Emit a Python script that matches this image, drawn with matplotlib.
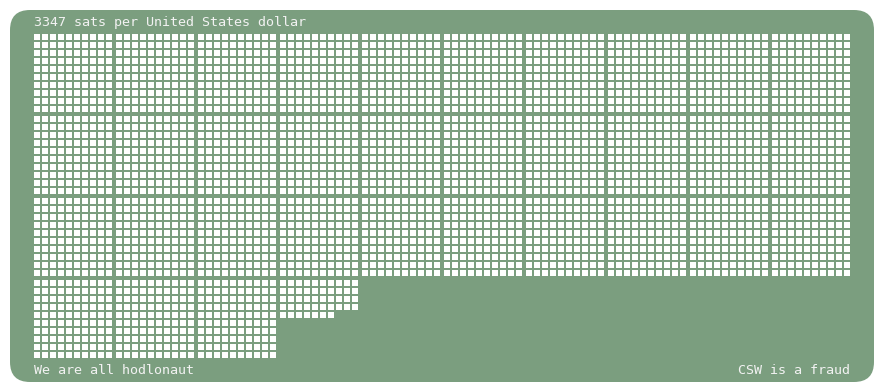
import matplotlib
matplotlib.use("Agg")
import matplotlib.pyplot as plt
from matplotlib.patches import FancyBboxPatch, Rectangle
from matplotlib.collections import PatchCollection

# data
sats_per_dollar = 3347
title = f"{sats_per_dollar} sats per United States dollar"
footer_left = "We are all hodlonaut"
footer_right = "CSW is a fraud"

BG = "#7b9e7f"
W, H = 884, 392
cell, pitch, block_gap = 6, 8, 2
blocks_per_row = 10
left, top = 34, 34

fig = plt.figure(figsize=(W / 100, H / 100), dpi=100)
ax = fig.add_axes([0, 0, 1, 1])
ax.set_xlim(0, W)
ax.set_ylim(H, 0)
ax.axis("off")

ax.add_patch(FancyBboxPatch((10, 10), 864, 372,
                            boxstyle="round,pad=0,rounding_size=20",
                            fc=BG, ec="none"))

block_pitch = 10 * pitch + block_gap
squares = []
for i in range(sats_per_dollar):
    block, k = divmod(i, 100)
    brow, bcol = divmod(block, blocks_per_row)
    r, c = divmod(k, 10)
    x = left + bcol * block_pitch + c * pitch
    y = top + brow * block_pitch + r * pitch
    squares.append(Rectangle((x, y), cell, cell))
ax.add_collection(PatchCollection(squares, fc="white", ec="none"))

font = dict(family="DejaVu Sans Mono", size=9.6, color="#f2f2f2")
ax.text(34, 26, title, va="baseline", ha="left", **font)
ax.text(34, 374, footer_left, va="baseline", ha="left", **font)
ax.text(850, 374, footer_right, va="baseline", ha="right", **font)

fig.savefig("out.png", dpi=100)
